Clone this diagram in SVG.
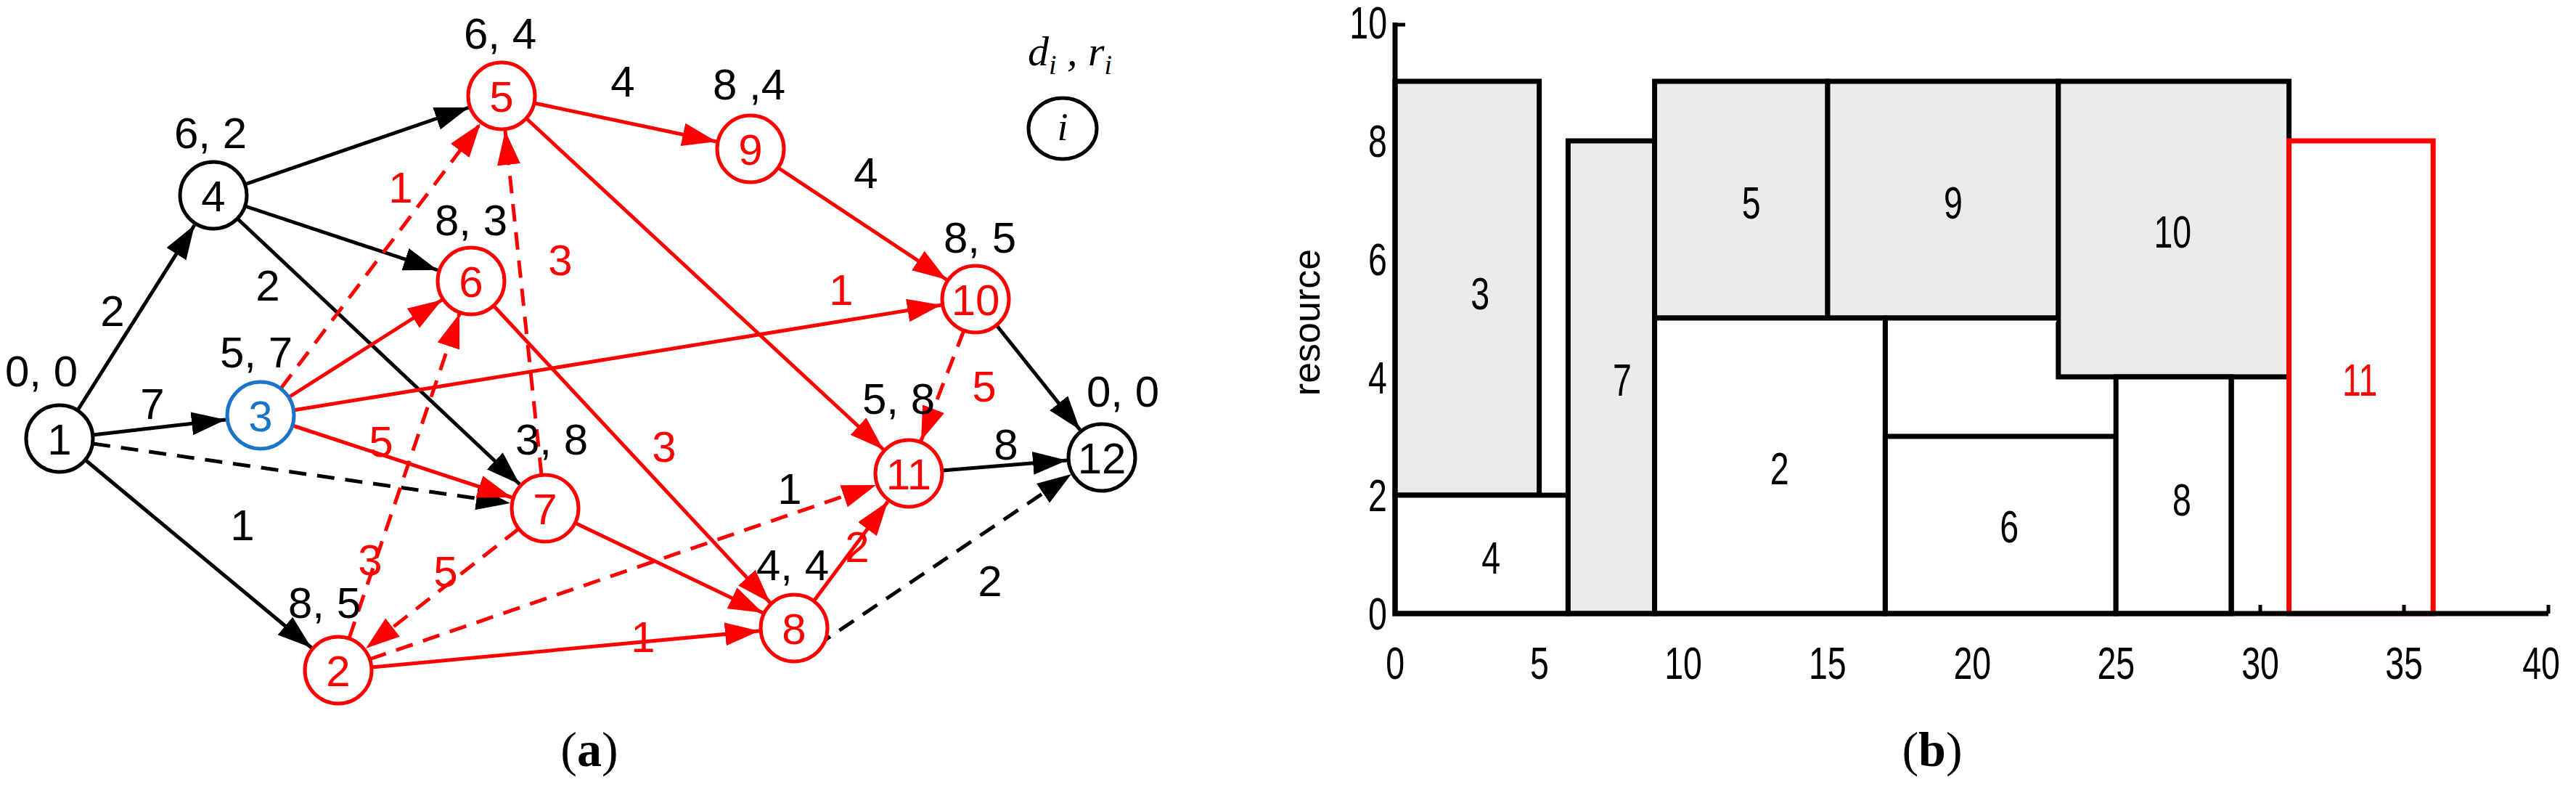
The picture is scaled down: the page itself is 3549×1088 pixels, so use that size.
<svg xmlns="http://www.w3.org/2000/svg" width="3549" height="1088" viewBox="0 0 3549 1088">
<style>
text{font-family:"Liberation Sans",Arial,sans-serif;font-size:60px;text-anchor:middle}
.r{fill:#ff0000}.k{fill:#000}
.n{fill:#fff;stroke-width:5}
.nk{stroke:#000}.nr{stroke:#ff0000}.nb{stroke:#1a75c8}
.e{fill:none;stroke-width:5}
.ek{stroke:#000}.er{stroke:#ff0000}
.d{stroke-dasharray:24,15}
.ak{marker-end:url(#ak)}.ar{marker-end:url(#ar)}
.box{stroke:#000;stroke-width:7;fill:#fff}
.g{fill:#ebebeb}
.t text{font-size:62px}
.end{text-anchor:end}
</style>
<defs>
<marker id="ak" markerUnits="userSpaceOnUse" markerWidth="48" markerHeight="32" refX="47" refY="16" orient="auto"><path d="M0,0L47,16L0,32z" fill="#000"/></marker>
<marker id="ar" markerUnits="userSpaceOnUse" markerWidth="48" markerHeight="32" refX="47" refY="16" orient="auto"><path d="M0,0L47,16L0,32z" fill="#ff0000"/></marker>
</defs>
<g id="connectors">
<line class="e ek ak" x1="107" y1="565" x2="268" y2="310"/>
<line class="e ek ak" x1="128" y1="599" x2="311" y2="578"/>
<line class="e ek ak d" x1="128" y1="611" x2="703" y2="693"/>
<line class="e ek ak" x1="117" y1="633" x2="429" y2="892"/>
<line class="e ek ak" x1="337" y1="254" x2="646" y2="148"/>
<line class="e ek ak" x1="338" y1="284" x2="603" y2="372"/>
<line class="e ek ak" x1="327" y1="301" x2="716" y2="667"/>
<line class="e er ar d" x1="387" y1="535" x2="662" y2="170"/>
<line class="e er ar" x1="398" y1="547" x2="609" y2="413"/>
<line class="e er ar" x1="404" y1="565" x2="1297" y2="420"/>
<line class="e er ar" x1="403" y1="586" x2="705" y2="685"/>
<line class="e er ar d" x1="481" y1="879" x2="633" y2="432"/>
<line class="e er ar d" x1="715" y1="728" x2="504" y2="893"/>
<line class="e er ar d" x1="509" y1="908" x2="1207" y2="668"/>
<line class="e er ar" x1="512" y1="919" x2="1046" y2="869"/>
<line class="e er ar d" x1="746" y1="654" x2="696" y2="180"/>
<line class="e er ar" x1="792" y1="720" x2="1051" y2="844"/>
<line class="e er ar" x1="736" y1="142" x2="987" y2="195"/>
<line class="e er ar" x1="725" y1="163" x2="1217" y2="619"/>
<line class="e er ar" x1="680" y1="421" x2="1061" y2="830"/>
<line class="e er ar" x1="1072" y1="231" x2="1304" y2="385"/>
<line class="e er ar d" x1="1328" y1="455" x2="1269" y2="607"/>
<line class="e ek ak" x1="1373" y1="448" x2="1488" y2="592"/>
<line class="e ek ak" x1="1298" y1="648" x2="1470" y2="634"/>
<line class="e er ar" x1="1121" y1="828" x2="1223" y2="691"/>
<line class="e ek ak d" x1="1124" y1="890" x2="1476" y2="653"/>
<text class="k" x="155" y="449">2</text>
<text class="k" x="210" y="577">7</text>
<text class="k" x="334" y="744">1</text>
<text class="k" x="369" y="414">2</text>
<text class="r" x="552" y="279">1</text>
<text class="r" x="772" y="379">3</text>
<text class="r" x="525" y="629">5</text>
<text class="r" x="510" y="792">3</text>
<text class="r" x="614" y="808">5</text>
<text class="r" x="886" y="898">1</text>
<text class="k" x="858" y="133">4</text>
<text class="k" x="1193" y="259">4</text>
<text class="r" x="1159" y="420">1</text>
<text class="r" x="915" y="636">3</text>
<text class="r" x="1356" y="553">5</text>
<text class="k" x="1088" y="694">1</text>
<text class="k" x="1386" y="633">8</text>
<text class="r" x="1181" y="774">2</text>
<text class="k" x="1364" y="821">2</text>
</g>
<g id="n1"><circle class="n nk" cx="82" cy="604" r="46"/><text class="k" x="82" y="626">1</text><text class="k" x="57" y="532">0, 0</text></g>
<g id="n2"><circle class="n nr" cx="466" cy="923" r="46"/><text class="r" x="466" y="945">2</text><text class="k" x="447" y="851">8, 5</text></g>
<g id="n3"><circle class="n nb" cx="359" cy="572" r="46"/><text fill="#1a75c8" x="359" y="594">3</text><text class="k" x="353" y="506">5, 7</text></g>
<g id="n4"><circle class="n nk" cx="294" cy="269" r="46"/><text class="k" x="294" y="291">4</text><text class="k" x="290" y="204">6, 2</text></g>
<g id="n5"><circle class="n nr" cx="691" cy="132" r="46"/><text class="r" x="691" y="154">5</text><text class="k" x="689" y="67">6, 4</text></g>
<g id="n6"><circle class="n nr" cx="649" cy="387" r="46"/><text class="r" x="649" y="409">6</text><text class="k" x="649" y="324">8, 3</text></g>
<g id="n7"><circle class="n nr" cx="751" cy="700" r="46"/><text class="r" x="751" y="722">7</text><text class="k" x="760" y="626">3, 8</text></g>
<g id="n8"><circle class="n nr" cx="1094" cy="865" r="46"/><text class="r" x="1094" y="887">8</text><text class="k" x="1092" y="799">4, 4</text></g>
<g id="n9"><circle class="n nr" cx="1034" cy="205" r="46"/><text class="r" x="1034" y="227">9</text><text class="k" x="1032" y="137">8 ,4</text></g>
<g id="n10"><circle class="n nr" cx="1344" cy="412" r="46"/><text class="r" x="1344" y="434">10</text><text class="k" x="1350" y="348">8, 5</text></g>
<g id="n11"><circle class="n nr" cx="1252" cy="652" r="46"/><text class="r" x="1252" y="674">11</text><text class="k" x="1238" y="570">5, 8</text></g>
<g id="n12"><circle class="n nk" cx="1518" cy="630" r="46"/><text class="k" x="1518" y="652">12</text><text class="k" x="1547" y="560">0, 0</text></g>
<g id="legend"><ellipse class="n nk" cx="1464" cy="177" rx="47" ry="42"/><text class="k" x="1464" y="193" style="font-family:'Liberation Serif',serif;font-style:italic;font-size:54px">i</text>
<text x="1474" y="90" style="font-family:'Liberation Serif',serif;font-style:italic;font-size:58px">d<tspan font-size="38" dy="12">i</tspan><tspan dy="-12"> , r</tspan><tspan font-size="38" dy="12">i</tspan></text></g>
<text x="812" y="1055" style="font-family:'Liberation Serif',serif;font-size:68px">(<tspan font-weight="bold">a</tspan>)</text>
<g id="chart">
<rect class="box g" x="1922" y="112" width="198.6" height="570"/>
<rect class="box" x="1922" y="682" width="238.4" height="163"/>
<rect class="box g" x="2160.4" y="194" width="119.2" height="651"/>
<rect class="box g" x="2279.6" y="112" width="238.4" height="326"/>
<rect class="box g" x="2518" y="112" width="317.8" height="326"/>
<rect class="box g" x="2835.8" y="112" width="317.8" height="407"/>
<rect class="box" x="2279.6" y="438" width="317.8" height="407"/>
<polyline class="box" fill="none" points="2597.4,845 2597.4,438 2835.8,438"/>
<rect class="box" x="2597.4" y="601" width="317.8" height="244"/>
<rect class="box" x="2915.2" y="519" width="158.9" height="326"/>
<line x1="3074.1" y1="519" x2="3074.1" y2="845" stroke="#000" stroke-width="7"/>
<rect x="3153.6" y="194" width="198.6" height="651" fill="#fff" stroke="#ff0000" stroke-width="7"/>
<path d="M1922,31V845H3511" fill="none" stroke="#000" stroke-width="7"/>
<path d="M1922,34h14M3114,845v-12M3312,845v-12M3511,845v-12M2915,845v-8" stroke="#000" stroke-width="5"/>
<g class="t" transform="scale(0.75,1)">
<text x="2719" y="426">3</text><text x="2739" y="790">4</text><text x="2980" y="545">7</text>
<text x="3217" y="301">5</text><text x="3588" y="301">9</text><text x="3991" y="341">10</text>
<text x="3269" y="667">2</text><text x="3691" y="747">6</text><text x="4008" y="710">8</text>
<text x="4335" y="545" class="r">11</text>
<text class="end" x="2548" y="53">10</text><text class="end" x="2548" y="216">8</text><text class="end" x="2548" y="379">6</text><text class="end" x="2548" y="542">4</text><text class="end" x="2548" y="704">2</text><text class="end" x="2548" y="867">0</text>
<text x="2563" y="935">0</text><text x="2828" y="935">5</text><text x="3092" y="935">10</text><text x="3357" y="935">15</text><text x="3623" y="935">20</text><text x="3887" y="935">25</text><text x="4152" y="935">30</text><text x="4416" y="935">35</text><text x="4668" y="935">40</text>
</g>
<text x="0" y="0" transform="translate(1818,444) rotate(-90)" style="font-size:52px">resource</text>
</g>
<text x="2662" y="1055" style="font-family:'Liberation Serif',serif;font-size:68px">(<tspan font-weight="bold">b</tspan>)</text>
</svg>
